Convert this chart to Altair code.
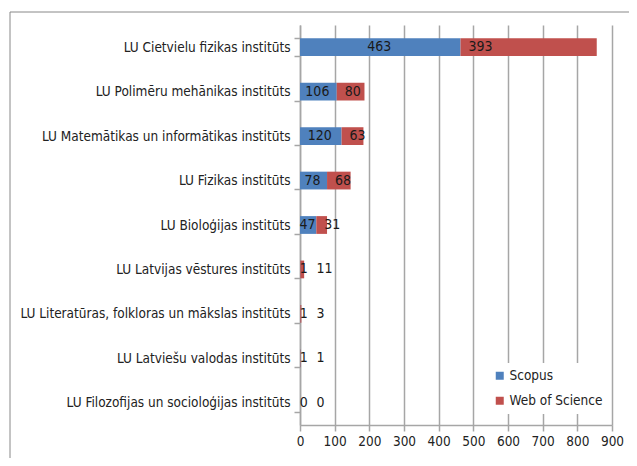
import altair as alt
import pandas as pd

institutes = [
    "LU Cietvielu fizikas institūts",
    "LU Polimēru mehānikas institūts",
    "LU Matemātikas un informātikas institūts",
    "LU Fizikas institūts",
    "LU Bioloģijas institūts",
    "LU Latvijas vēstures institūts",
    "LU Literatūras, folkloras un mākslas institūts",
    "LU Latviešu valodas institūts",
    "LU Filozofijas un socioloģijas institūts",
]
scopus = [463, 106, 120, 78, 47, 1, 1, 1, 0]
wos = [393, 80, 63, 68, 31, 11, 3, 1, 0]
series = ["Scopus", "Web of Science"]
colors = ["#4F81BD", "#C0504D"]
x_ticks = [0, 100, 200, 300, 400, 500, 600, 700, 800, 900]

FONT = "'DejaVu Sans Condensed', 'Liberation Sans Narrow', sans-serif"
W, H = 312, 400
XMAX = 900
k = W / XMAX
CHAR = 3.7  # half-width of one digit in px (approx)

bar_rows = []
lab_s, lab_w = [], []
for name, s, w in zip(institutes, scopus, wos):
    bar_rows.append(dict(inst=name, series=series[0], start=0, end=s))
    bar_rows.append(dict(inst=name, series=series[1], start=s, end=s + w))
    ns, nw = len(str(s)), len(str(w))
    sc_px = max(s * k / 2 - 1, CHAR * ns)
    sc_end = sc_px + CHAR * ns
    w_px = max(s * k + 8, sc_end + 9)
    lab_s.append(dict(inst=name, pos=sc_px / k, txt=str(s)))
    lab_w.append(dict(inst=name, pos=w_px / k, txt=str(w)))

bars_df = pd.DataFrame(bar_rows)
ls_df = pd.DataFrame(lab_s)
lw_df = pd.DataFrame(lab_w)

GRID = "#A6A6A6"

y_axis = alt.Axis(
    title=None,
    tickBand="extent",
    grid=False,
    domainColor=GRID,
    domainWidth=1.5,
    tickColor=GRID,
    tickWidth=1.5,
    tickSize=6,
    labelFont=FONT,
    labelFontSize=13.5,
    labelColor="#222222",
    labelPadding=4,
    labelLimit=400,
)
y_scale = alt.Scale(paddingInner=0.6, paddingOuter=0.3)

x_axis = alt.Axis(
    title=None,
    values=x_ticks,
    grid=True,
    gridColor=GRID,
    gridWidth=1.5,
    domainColor=GRID,
    domainWidth=1.5,
    tickColor=GRID,
    tickWidth=1.5,
    tickSize=6,
    labelFont=FONT,
    labelFontSize=13.5,
    labelColor="#222222",
    labelPadding=3,
    labelOverlap=False,
    labelFlush=False,
)
x_scale = alt.Scale(domain=[0, XMAX], nice=False)

bars = alt.Chart(bars_df).mark_bar().encode(
    x=alt.X("start:Q", scale=x_scale, axis=x_axis),
    x2="end:Q",
    y=alt.Y("inst:N", sort=institutes, scale=y_scale, axis=y_axis),
    color=alt.Color(
        "series:N",
        scale=alt.Scale(domain=series, range=colors),
        legend=alt.Legend(
            title=None,
            orient="none",
            legendX=187,
            legendY=338,
            fillColor="white",
            padding=6,
            symbolType="square",
            symbolSize=64,
            symbolStrokeWidth=0,
            labelFont=FONT,
            labelFontSize=13.5,
            labelColor="#222222",
            labelOffset=3,
            rowPadding=10,
        ),
    ),
)

txt_s = alt.Chart(ls_df).mark_text(
    align="center", baseline="middle", font=FONT, fontSize=14, color="#1a1a1a"
).encode(
    x=alt.X("pos:Q", scale=x_scale, axis=x_axis),
    y=alt.Y("inst:N", sort=institutes, scale=y_scale, axis=y_axis),
    text="txt:N",
)

txt_w = alt.Chart(lw_df).mark_text(
    align="left", baseline="middle", font=FONT, fontSize=14, color="#1a1a1a"
).encode(
    x=alt.X("pos:Q", scale=x_scale, axis=x_axis),
    y=alt.Y("inst:N", sort=institutes, scale=y_scale, axis=y_axis),
    text="txt:N",
)

one = pd.DataFrame({"a": [0]})
border_left = alt.Chart(one).mark_rule(color="#888888", strokeWidth=1).encode(
    x=alt.value(-290), y=alt.value(-13), y2=alt.value(460)
)
border_top = alt.Chart(one).mark_rule(color="#888888", strokeWidth=1).encode(
    x=alt.value(-290), x2=alt.value(400), y=alt.value(-13)
)

chart = alt.layer(bars, txt_s, txt_w, border_left, border_top).properties(
    width=W,
    height=H,
    padding={"left": 292, "top": 17, "right": 17, "bottom": 33},
    autosize=alt.AutoSizeParams(type="none"),
).configure_view(strokeWidth=0)

chart.save("out.html", embed_options={"renderer": "svg", "actions": False})
